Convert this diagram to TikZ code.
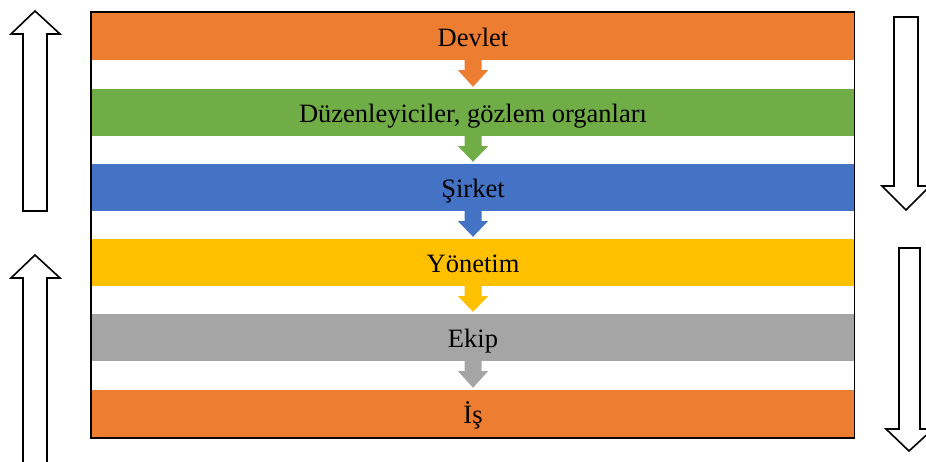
\documentclass[tikz,border=0pt]{standalone}
\usepackage{fontspec}
\setmainfont{Liberation Serif}
\usetikzlibrary{calc}
\definecolor{cOrange}{HTML}{ED7D31}
\definecolor{cGreen}{HTML}{70AD47}
\definecolor{cBlue}{HTML}{4472C4}
\definecolor{cYellow}{HTML}{FFC000}
\definecolor{cGray}{HTML}{A5A5A5}
\tikzset{
  band/.style={rectangle, fill=#1, minimum width=762pt, minimum height=47pt, inner sep=0pt,
    text height=20pt, text depth=0pt,
    font=\fontsize{26.5}{30}\selectfont, text=black},
  bigarrow/.style={draw=black, line width=1.6pt, fill=white, line join=miter},
}
\newcommand{\smallarrow}[3]{% from node #1 (south) toward #2 with color #3
  \fill[#3] ($(#1.south)+(-8.5,0)$) -- ($(#1.south)+(8.5,0)$) -- ($(#1.south)+(8.5,10)$)
    -- ($(#1.south)+(15,10)$) -- ($(#2.north)+(0,-2)$) -- ($(#1.south)+(-15,10)$)
    -- ($(#1.south)+(-8.5,10)$) -- cycle;}
\begin{document}
\begin{tikzpicture}[x=1pt,y=-1pt]
\clip (0,0) rectangle (926,462);
\fill[white] (0,0) rectangle (926,462);
\node[band=cOrange] (b1) at (473,36.5) {Devlet};
\node[band=cGreen]  (b2) at (473,112.5) {Düzenleyiciler, gözlem organları};
\node[band=cBlue]   (b3) at (473,187.5) {Şirket};
\node[band=cYellow] (b4) at (473,262.5) {Yönetim};
\node[band=cGray]   (b5) at (473,337.5) {Ekip};
\node[band=cOrange] (b6) at (473,413.5) {İş};
\smallarrow{b1}{b2}{cOrange}
\smallarrow{b2}{b3}{cGreen}
\smallarrow{b3}{b4}{cBlue}
\smallarrow{b4}{b5}{cYellow}
\smallarrow{b5}{b6}{cGray}
\draw[black, line width=1.3pt] (91,12) rectangle (854.5,438);
% big outline arrows
\draw[bigarrow] (23,211) -- (23,34) -- (11,34) -- (35,11) -- (60,34) -- (47,34) -- (47,211) -- cycle;
\draw[bigarrow] (23,470) -- (23,278) -- (11,278) -- (35,255) -- (60,278) -- (47,278) -- (47,470) -- cycle;
\draw[bigarrow] (894,17) -- (918,17) -- (918,186) -- (930,186) -- (906,210) -- (882,186) -- (894,186) -- cycle;
\draw[bigarrow] (899,248) -- (920,248) -- (920,429) -- (933,429) -- (909,451) -- (886,429) -- (899,429) -- cycle;
\end{tikzpicture}
\end{document}
